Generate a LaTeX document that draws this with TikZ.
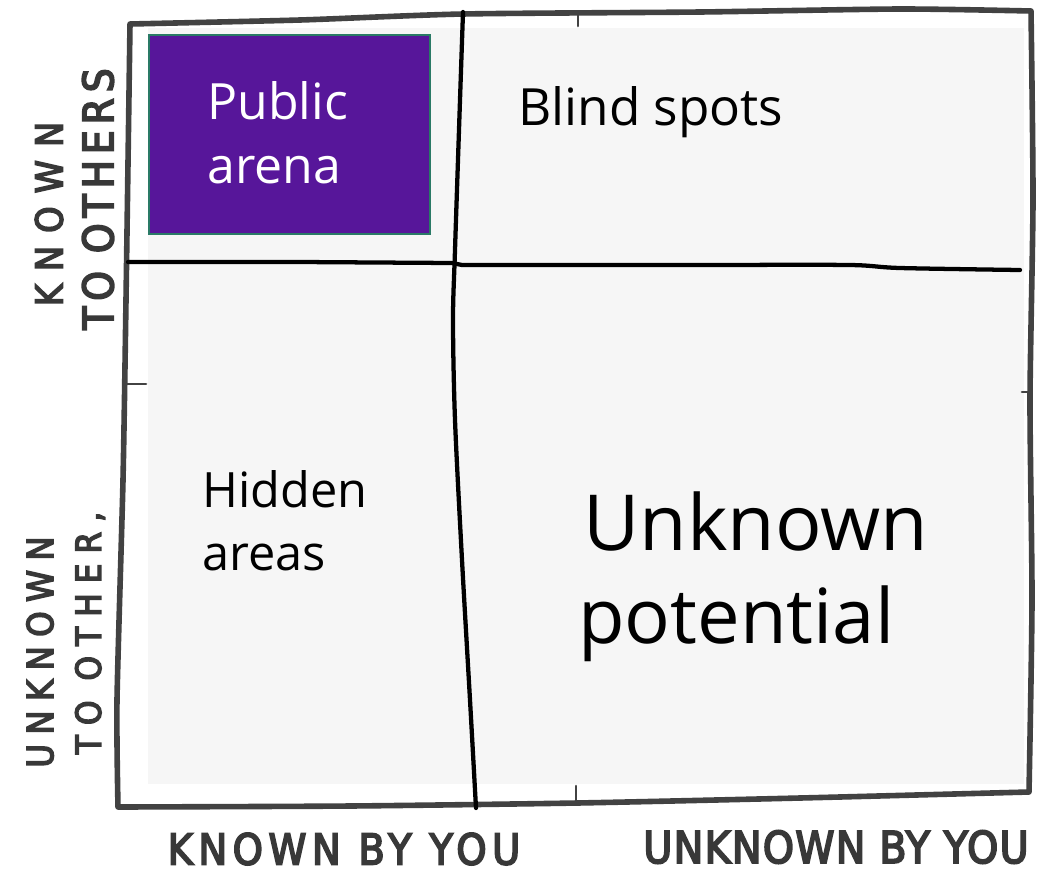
\documentclass[tikz,border=0pt]{standalone}
\usepackage{fontspec}
\newfontfamily\handfont{Open Sans}
\newfontfamily\capsfont{DejaVu Sans}[FakeStretch=0.9, FakeBold=4]
\definecolor{framegray}{HTML}{424242}
\definecolor{panelgray}{HTML}{F6F6F6}
\definecolor{arenapurple}{HTML}{57169A}
\definecolor{arenaedge}{HTML}{2A7A66}
\definecolor{inkgray}{HTML}{383838}
\tikzset{
  frameline/.style={draw=framegray, line width=4.2pt, line cap=round, line join=round},
  divider/.style={draw=black, line width=3.2pt, line cap=round, line join=round},
  tickline/.style={draw=framegray, line width=2pt, line cap=round},
  arealabel/.style={inner sep=0pt, anchor=base west, text=black},
  axislabel/.style={inner sep=0pt, anchor=center, text=inkgray},
}
\newcommand{\axisfont}[2]{\capsfont\addfontfeature{LetterSpace=#1}\fontsize{#2}{#2}\selectfont}
\begin{document}
\begin{tikzpicture}[x=0.75pt, y=-0.75pt]
\useasboundingbox (0,0) rectangle (1056,875);
\fill[white] (0,0) rectangle (1056,875);

% light panel behind the four quadrants
\fill[panelgray] (148,28) rectangle (1024,784);

% hand-drawn outer frame
\draw[frameline] plot[smooth, tension=0.4] coordinates {
  (130,24) (300,20) (463,14) (700,12) (900,9) (1031,11)}
  -- plot[smooth, tension=0.4] coordinates {
  (1031,11) (1033,200) (1030,400) (1032,600) (1029,792)}
  -- plot[smooth, tension=0.4] coordinates {
  (1029,792) (800,798) (577,803) (350,806) (118,807)}
  -- plot[smooth, tension=0.4] coordinates {
  (118,807) (117,700) (123,480) (126,300) (130,24)};

% small tick marks on the frame
\draw[tickline] (578,14) -- (578,26);
\draw[tickline] (576,786) -- (576,802);
\draw[tickline] (126,384) -- (146,384);
\draw[tickline] (1022,392) -- (1031,392);

% quadrant dividers
\draw[divider] plot[smooth, tension=0.5] coordinates {
  (463,12) (460,100) (455,250) (453,320) (455,420) (462,560) (470,700) (476,808)};
\draw[divider] (128,262) -- (300,262) -- (452,263) -- (462,265)
  -- (720,265) plot[smooth, tension=0.5] coordinates {(720,265) (850,265) (900,268) (1020,270)};

% highlighted quadrant
\node[draw=arenaedge, line width=1.2pt, fill=arenapurple, minimum width=281*0.75pt,
  minimum height=199*0.75pt, anchor=north west, inner sep=0pt] (arena) at (148,34) {};

% quadrant labels
\node[arealabel, text=white, font=\handfont\fontsize{37.5}{40}\selectfont] (pubA) at (207,119) {Public};
\node[arealabel, text=white, font=\handfont\fontsize{37.5}{40}\selectfont] (pubB) at (207,183) {arena};
\node[arealabel, font=\handfont\fontsize{38.5}{40}\selectfont] (blind) at (518,125) {Blind spots};
\node[arealabel, font=\handfont\fontsize{36.5}{38}\selectfont] (hidA) at (202,507) {Hidden};
\node[arealabel, font=\handfont\fontsize{36.5}{38}\selectfont] (hidB) at (202,570) {areas};
\node[arealabel, font=\handfont\fontsize{58}{60}\selectfont] (unkA) at (583,550) {Unknown};
\node[arealabel, font=\handfont\fontsize{57}{60}\selectfont] (unkB) at (578,643) {potential};

% axis labels
\node[axislabel, rotate=90, font=\axisfont{35}{28}] (knownO) at (49,214) {KNOWN};
\node[axislabel, rotate=90, font=\axisfont{14}{31.5}] (toO) at (98,199) {TO OTHERS};
\node[axislabel, rotate=90, font=\axisfont{26}{27}] (unknownO) at (40,652) {UNKNOWN};
\node[axislabel, rotate=90, font=\axisfont{29}{26}] (toOb) at (90,633) {TO OTHER,};
\node[axislabel, font=\axisfont{13}{32}] (knownY) at (344,849) {KNOWN BY YOU};
\node[axislabel, font=\axisfont{3}{33}] (unknownY) at (836,847) {UNKNOWN BY YOU};
\end{tikzpicture}
\end{document}
